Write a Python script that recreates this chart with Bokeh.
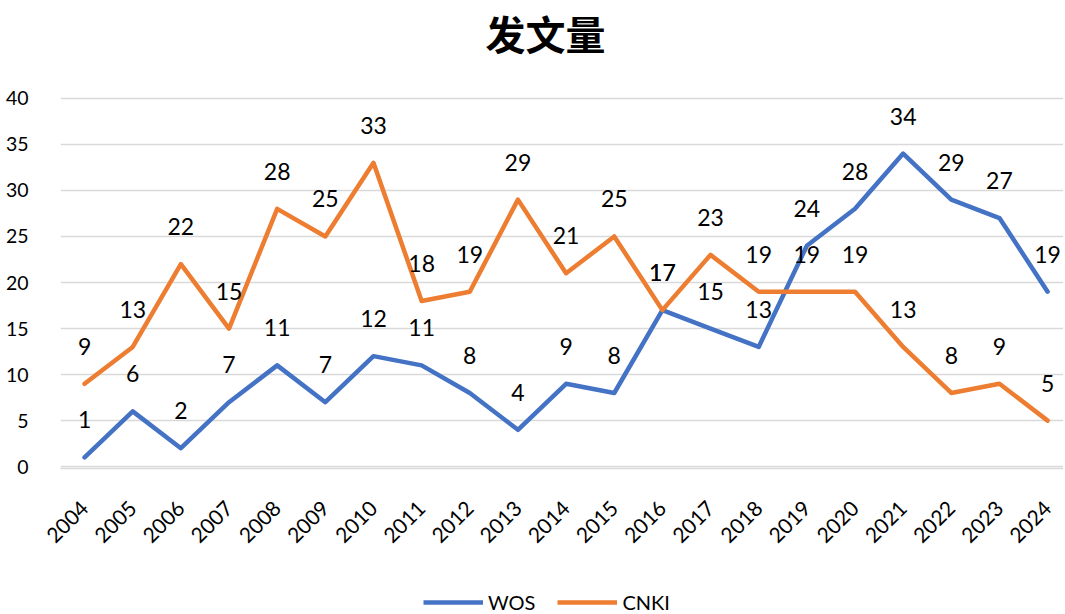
from bokeh.plotting import figure
from bokeh.models import Range1d, FixedTicker, LabelSet, ColumnDataSource, Legend, LegendItem
from bokeh.layouts import column
from bokeh.core.properties import value
from bokeh.embed import file_html
from bokeh.resources import INLINE

title_text = "发文量"
years = list(range(2004, 2025))
wos = [1, 6, 2, 7, 11, 7, 12, 11, 8, 4, 9, 8, 17, 15, 13, 24, 28, 34, 29, 27, 19]
cnki = [9, 13, 22, 15, 28, 25, 33, 18, 19, 29, 21, 25, 17, 23, 19, 19, 19, 13, 8, 9, 5]
y_ticks = [0, 5, 10, 15, 20, 25, 30, 35, 40]
series_names = ["WOS", "CNKI"]

FONT = "Lato"
BLUE = "#4472C4"
ORANGE = "#ED7D31"

def strip(h):
    f = figure(width=1063, height=h, output_backend="svg", toolbar_location=None,
               x_range=Range1d(0, 1003), y_range=Range1d(0, 1),
               min_border_left=60, min_border_right=0, min_border_top=0, min_border_bottom=0)
    f.axis.visible = False
    f.grid.grid_line_color = None
    f.outline_line_color = None
    return f

# title strip
tf = strip(64)
tf.text(x=[485], y=[0.5], text=[title_text], text_align="center", text_baseline="middle",
        text_font=value("Noto Sans CJK SC"), text_font_size=value("40px"),
        text_font_style="bold", text_color="#000000")

p = figure(frame_width=1003, frame_height=372, output_backend="svg", toolbar_location=None,
           x_range=Range1d(2003.5, 2024.33), y_range=Range1d(-0.2, 40.2),
           min_border_left=60, min_border_right=0, min_border_top=32, min_border_bottom=110)
p.outline_line_color = None
p.background_fill_color = "white"

src = ColumnDataSource(dict(x=years, wos=wos, cnki=cnki,
                            wl=[str(v) for v in wos], cl=[str(v) for v in cnki]))

r1 = p.line("x", "wos", source=src, line_color=BLUE, line_width=4.5, line_join="round", line_cap="round")
r2 = p.line("x", "cnki", source=src, line_color=ORANGE, line_width=4.5, line_join="round", line_cap="round")

for col, lab in (("wos", "wl"), ("cnki", "cl")):
    ls = LabelSet(x="x", y=col, text=lab, source=src, y_offset=29,
                  text_align="center", text_baseline="alphabetic",
                  text_font=value(FONT), text_font_size=value("23px"), text_color="#000000")
    p.add_layout(ls)

p.xaxis.ticker = FixedTicker(ticks=years)
p.xaxis.major_label_orientation = 0.785398
p.xaxis.major_tick_line_color = None
p.xaxis.minor_tick_line_color = None
p.xaxis.axis_line_color = "#D9D9D9"
p.xaxis.axis_line_width = 1.5
p.xaxis.major_label_text_font = FONT
p.xaxis.major_label_text_font_size = "21px"
p.xaxis.major_label_text_color = "#000000"
p.xaxis.major_label_standoff = 30

p.yaxis.ticker = FixedTicker(ticks=y_ticks)
p.yaxis.major_tick_line_color = None
p.yaxis.minor_tick_line_color = None
p.yaxis.axis_line_color = None
p.yaxis.major_label_text_font = FONT
p.yaxis.major_label_text_font_size = "19.5px"
p.yaxis.major_label_text_color = "#000000"
p.yaxis.major_label_standoff = 26

p.xgrid.grid_line_color = None
p.ygrid.grid_line_color = "#D9D9D9"
p.ygrid.grid_line_width = 1.5

# legend strip below the chart (proxy lines lie outside the visible range)
lg = strip(36)
l1 = lg.line(x=[-200, -100], y=[-5, -5], line_color=BLUE, line_width=4.5)
l2 = lg.line(x=[-200, -100], y=[-5, -5], line_color=ORANGE, line_width=4.5)
legend = Legend(items=[LegendItem(label=series_names[0], renderers=[l1]),
                       LegendItem(label=series_names[1], renderers=[l2])],
                orientation="horizontal", location=(363, 0),
                label_text_font=FONT, label_text_font_size="20px", label_text_color="#000000",
                glyph_width=60, glyph_height=20, spacing=22, padding=0, margin=0,
                label_standoff=5,
                border_line_color=None, background_fill_alpha=0)
lg.add_layout(legend)

layout = column(tf, p, lg, spacing=0)
open("out.html", "w").write(file_html(layout, INLINE))
